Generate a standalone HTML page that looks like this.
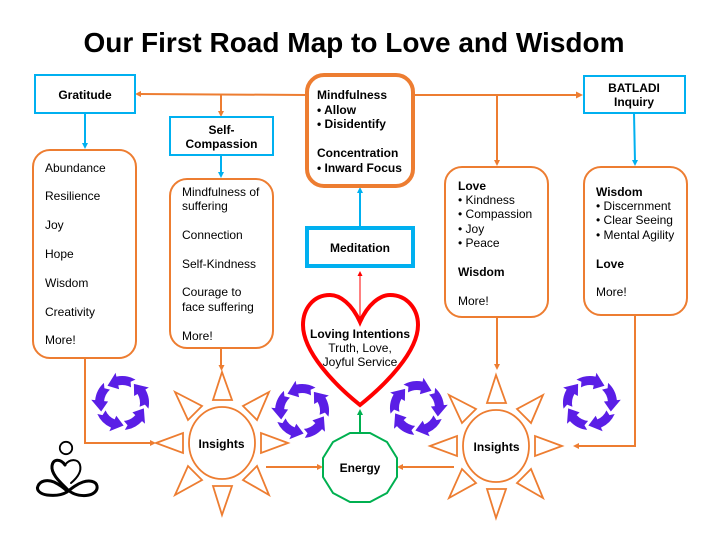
<!DOCTYPE html>
<html><head><meta charset="utf-8"><style>
html,body{margin:0;padding:0;background:#fff}
svg{display:block}
text{font-family:"Liberation Sans",Arial,sans-serif;font-size:12px;fill:#000}
.b{font-weight:bold}
.m{text-anchor:middle}
.o{fill:none;stroke:#ed7d31;stroke-width:2}
.bl{fill:none;stroke:#00b0f0;stroke-width:2}
</style></head><body>
<svg width="720" height="540" viewBox="0 0 720 540" xmlns="http://www.w3.org/2000/svg">
<defs>
<g id="cyc">
<path id="ar" d="M13.5,-23.4 A27 27 0 0 0 -5.6,-26.4 L-6.4,-30.3 L-14.5,-17.2 L-2.9,-13.7 L-3.7,-17.6 A18 18 0 0 1 9,-15.6 L8.6,-21.3 Z" fill="#5a1ee6"/>
<use href="#ar" transform="rotate(72)"/><use href="#ar" transform="rotate(144)"/><use href="#ar" transform="rotate(216)"/><use href="#ar" transform="rotate(288)"/>
</g>
<g id="rays" fill="none" stroke="#ed7d31" stroke-width="1.8" stroke-linejoin="miter">
<path d="M0,-71 L-9,-43 L10,-43 Z"/>
<path d="M0,72 L-9,43 L10,43 Z"/>
<path d="M-66,0 L-39,-10 L-39,10 Z"/>
<path d="M66,0 L39,-10 L39,10 Z"/>
<path d="M-47,-51 L-20,-37 L-34,-23 Z"/>
<path d="M47,-51 L21,-37 L35,-23 Z"/>
<path d="M-47,52 L-20,37 L-34,23 Z"/>
<path d="M47,52 L21,37 L35,23 Z"/>
<ellipse cx="0" cy="0" rx="33" ry="36"/>
</g>
</defs>

<text x="354" y="52" class="b m" style="font-size:28px" textLength="541" lengthAdjust="spacingAndGlyphs">Our First Road Map to Love and Wisdom</text>

<!-- connectors -->
<path class="o" d="M140,94 L307,95"/><path d="M135,94 L141,91 L141,97 Z" fill="#ed7d31"/>
<path class="o" d="M221,95 V113"/><path d="M221,117 L218,111 L224,111 Z" fill="#ed7d31"/>
<path class="o" d="M415,95 H578"/><path d="M583,95 L576,91.500 L576,98.500 Z" fill="#ed7d31"/>
<path class="o" d="M497,95 V162"/><path d="M497,166 L494,160 L500,160 Z" fill="#ed7d31"/>
<path class="bl" d="M85,113 V145"/><path d="M85,149 L82,143 L88,143 Z" fill="#00b0f0"/>
<path class="bl" d="M221,155 V174"/><path d="M221,178 L218,172 L224,172 Z" fill="#00b0f0"/>
<path class="bl" d="M634,113 L635,162"/><path d="M635,166 L632,160 L638,160 Z" fill="#00b0f0"/>
<path class="bl" d="M360,226 V192"/><path d="M360,187 L357,193 L363,193 Z" fill="#00b0f0"/>
<path d="M360,322 V275" stroke="#f00" stroke-width="1" fill="none"/><path d="M360,271 L357.500,276 L362.500,276 Z" fill="#f00"/>
<path d="M360,433 V414" stroke="#00b050" stroke-width="2" fill="none"/><path d="M360,409 L357,415 L363,415 Z" fill="#00b050"/>
<path class="o" d="M221,348 V367"/><path d="M221.500,371 L218.500,365 L224.500,365 Z" fill="#ed7d31"/>
<path class="o" d="M85,358 V443 H152"/><path d="M156,443 L150,440 L150,446 Z" fill="#ed7d31"/>
<path class="o" d="M497,317 V366"/><path d="M497,370 L494,364 L500,364 Z" fill="#ed7d31"/>
<path class="o" d="M635,315 V446 H578"/><path d="M573,446 L579,443 L579,449 Z" fill="#ed7d31"/>
<path class="o" d="M266,467 H318"/><path d="M323,467 L317,464 L317,470 Z" fill="#ed7d31"/>
<path class="o" d="M454,467 H402"/><path d="M397,467 L403,464 L403,470 Z" fill="#ed7d31"/>

<!-- boxes -->
<rect x="35" y="75" width="100" height="38" fill="#fff" stroke="#00b0f0" stroke-width="2"/>
<rect x="170" y="117" width="103" height="38" fill="#fff" stroke="#00b0f0" stroke-width="2"/>
<rect x="584" y="76" width="101" height="37" fill="#fff" stroke="#00b0f0" stroke-width="2"/>
<rect x="307" y="228" width="106" height="38" fill="#fff" stroke="#00b0f0" stroke-width="4"/>
<rect x="307" y="75" width="106" height="111" rx="17" fill="#fff" stroke="#ed7d31" stroke-width="4"/>
<rect x="33" y="150" width="103" height="208" rx="17" class="o" style="fill:#fff"/>
<rect x="170" y="179" width="103" height="169" rx="17" class="o" style="fill:#fff"/>
<rect x="445" y="167" width="103" height="150" rx="17" class="o" style="fill:#fff"/>
<rect x="584" y="167" width="103" height="148" rx="17" class="o" style="fill:#fff"/>

<!-- heart -->
<path d="M360,322 C352,304 340,295 330,295 C313,295 303,309 303,325 C303,352 335,385 360,405 C385,385 418,352 418,325 C418,309 407,295 390,295 C380,295 368,304 360,322 Z" fill="#fff" stroke="#f00" stroke-width="4" stroke-linejoin="miter"/>

<!-- suns -->
<use href="#rays" transform="translate(222,443)"/>
<use href="#rays" transform="translate(496,446)"/>

<!-- energy -->
<polygon points="350,433 370,433 387,442 397,458 397,477 387,493 370,502 350,502 333,493 323,477 323,458 333,442" fill="#fff" stroke="#00b050" stroke-width="2"/>

<!-- cycles -->
<use href="#cyc" transform="translate(122,403)"/>
<use href="#cyc" transform="translate(302,411)"/>
<use href="#cyc" transform="translate(417,408) scale(-1,1)"/>
<use href="#cyc" transform="translate(590,403) scale(-1,1)"/>

<!-- logo -->
<g fill="none" stroke="#000" stroke-linecap="round">
<circle cx="66" cy="448" r="6.200" stroke-width="1.800"/>
<path d="M65,465 C61,459 53,458 52,466 C51,474 60,482 67,489 C72,494 78,496 86,495.500 C93,495 98,491 97,486 C96,481 89,480 83,482 C77,484 72,488 67,492 C62,495 55,496 47,495 C40,494 36,490 38,486 C40,481 47,479 54,482 C60,485 64,488 67,491" stroke-width="3"/>
<path d="M65,465 C69,459 78,458 80,465 C82,472 77,478 71,483" stroke-width="2"/>
</g>

<!-- text -->
<text x="85" y="99" class="b m">Gratitude</text>
<text x="221.500" y="134" class="b m">Self-</text>
<text x="221.500" y="148" class="b m">Compassion</text>
<text x="634" y="92" class="b m">BATLADI</text>
<text x="634" y="106" class="b m">Inquiry</text>
<text x="360" y="252" class="b m">Meditation</text>

<text x="317" y="99" class="b">Mindfulness</text>
<text x="317" y="114" class="b">• Allow</text>
<text x="317" y="128" class="b">• Disidentify</text>
<text x="317" y="157" class="b">Concentration</text>
<text x="317" y="172" class="b">• Inward Focus</text>

<text x="45" y="172">Abundance</text>
<text x="45" y="200">Resilience</text>
<text x="45" y="229">Joy</text>
<text x="45" y="258">Hope</text>
<text x="45" y="287">Wisdom</text>
<text x="45" y="316">Creativity</text>
<text x="45" y="344">More!</text>

<text x="182" y="196">Mindfulness of</text>
<text x="182" y="210">suffering</text>
<text x="182" y="239">Connection</text>
<text x="182" y="268">Self-Kindness</text>
<text x="182" y="296">Courage to</text>
<text x="182" y="311">face suffering</text>
<text x="182" y="340">More!</text>

<text x="458" y="190" class="b">Love</text>
<text x="458" y="204">• Kindness</text>
<text x="458" y="218">• Compassion</text>
<text x="458" y="233">• Joy</text>
<text x="458" y="247">• Peace</text>
<text x="458" y="276" class="b">Wisdom</text>
<text x="458" y="305">More!</text>

<text x="596" y="196" class="b">Wisdom</text>
<text x="596" y="210">• Discernment</text>
<text x="596" y="224">• Clear Seeing</text>
<text x="596" y="239">• Mental Agility</text>
<text x="596" y="268" class="b">Love</text>
<text x="596" y="296">More!</text>

<text x="360" y="338" class="b m">Loving Intentions</text>
<text x="360" y="352" class="m">Truth, Love,</text>
<text x="360" y="366" class="m">Joyful Service</text>

<text x="221.500" y="448" class="b m">Insights</text>
<text x="496.500" y="451" class="b m">Insights</text>
<text x="360" y="472" class="b m">Energy</text>
</svg>
</body></html>
